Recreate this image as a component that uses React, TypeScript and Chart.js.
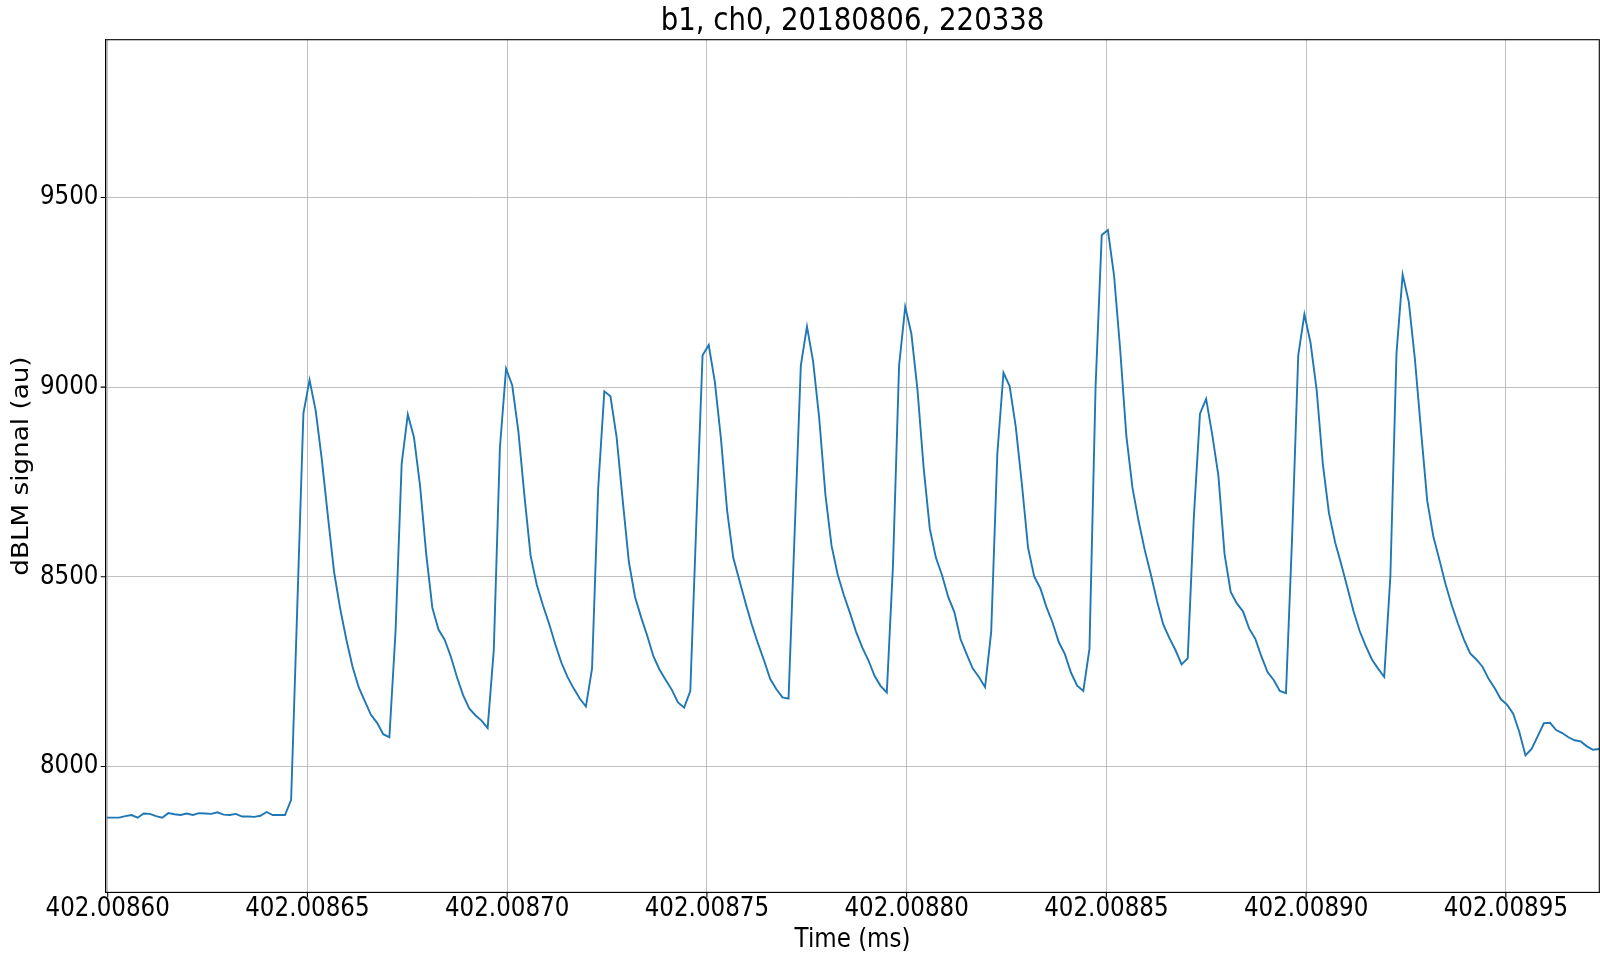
import React, { useEffect, useRef } from "react";
import { Chart, registerables } from "chart.js";

Chart.register(...registerables);

const TITLE = "b1, ch0, 20180806, 220338";
const X_LABEL = "Time (ms)";
const Y_LABEL = "dBLM signal (au)";

// sampling of the trace
const T_START = 402.0085998; // ms, first sample
const T_STEP = 1.5373e-6; // ms between samples

const X_MIN = 402.0085995;
const X_MAX = 402.0089734;
const Y_MIN = 7668;
const Y_MAX = 9916;

const X_TICKS = [402.0086, 402.00865, 402.0087, 402.00875, 402.0088, 402.00885, 402.0089, 402.00895];
const Y_TICKS = [8000, 8500, 9000, 9500];

// signal values (au), in sample order
const BASELINE = [7865, 7865, 7865, 7869, 7872, 7865, 7876, 7875, 7869, 7865, 7877, 7874, 7872, 7876, 7872, 7877, 7876, 7875, 7879, 7873, 7872, 7875, 7868, 7868, 7867, 7870, 7880, 7872, 7872, 7872];
const BUNCH_1 = [7912, 8420, 8931, 9019, 8938, 8809, 8658, 8512, 8415, 8334, 8263, 8209, 8172, 8136, 8115, 8085, 8077];
const BUNCH_2 = [8355, 8798, 8928, 8868, 8739, 8560, 8418, 8361, 8334, 8290, 8236, 8188, 8153, 8135, 8121, 8101];
const BUNCH_3 = [8307, 8841, 9049, 9005, 8884, 8712, 8555, 8479, 8425, 8377, 8323, 8274, 8236, 8206, 8179, 8158];
const BUNCH_4 = [8258, 8733, 8989, 8976, 8868, 8701, 8539, 8447, 8393, 8344, 8290, 8255, 8228, 8202, 8169, 8155];
const BUNCH_5 = [8199, 8650, 9084, 9111, 9014, 8863, 8674, 8550, 8490, 8431, 8375, 8325, 8280, 8231, 8204, 8182, 8179];
const BUNCH_6 = [8620, 9057, 9160, 9068, 8917, 8717, 8582, 8506, 8452, 8405, 8355, 8314, 8280, 8239, 8212, 8195];
const BUNCH_7 = [8528, 9057, 9212, 9141, 8992, 8787, 8627, 8550, 8504, 8447, 8407, 8336, 8296, 8258, 8236, 8209];
const BUNCH_8 = [8355, 8825, 9038, 9003, 8895, 8744, 8577, 8501, 8470, 8420, 8379, 8328, 8296, 8247, 8213, 8199];
const BUNCH_9 = [8310, 9003, 9401, 9414, 9295, 9100, 8873, 8735, 8647, 8571, 8506, 8436, 8375, 8339, 8307, 8269, 8285];
const BUNCH_10 = [8658, 8930, 8969, 8874, 8766, 8560, 8460, 8430, 8409, 8364, 8337, 8290, 8249, 8228, 8199, 8193];
const BUNCH_11 = [8604, 9084, 9192, 9117, 8992, 8798, 8668, 8591, 8533, 8472, 8409, 8357, 8317, 8282, 8258, 8236];
const BUNCH_12 = [8501, 9090, 9297, 9225, 9073, 8884, 8701, 8606, 8544, 8480, 8425, 8377, 8334, 8298, 8282, 8263, 8231, 8206, 8177, 8163, 8139];
const TAIL = [8091, 8029, 8046, 8080, 8114, 8115, 8096, 8088, 8077, 8069, 8066, 8053, 8044, 8046];

const SIGNAL = [
  ...BASELINE, ...BUNCH_1, ...BUNCH_2, ...BUNCH_3, ...BUNCH_4, ...BUNCH_5, ...BUNCH_6,
  ...BUNCH_7, ...BUNCH_8, ...BUNCH_9, ...BUNCH_10, ...BUNCH_11, ...BUNCH_12, ...TAIL,
];

const FONT = "'DejaVu Sans', sans-serif";
const W = 1600;
const H = 957;
const STRETCH = 1.14; // text in the reference is drawn taller than wide
const TICK_SIZE = 23;
const LABEL_SIZE = 23;
const TITLE_SIZE = 27.6;
const TICK_LEN = 5;

function drawText(ctx: CanvasRenderingContext2D, text: string, x: number, y: number, size: number, align: CanvasTextAlign, vertical = false) {
  ctx.save();
  ctx.translate(x, y);
  if (vertical) {
    ctx.rotate(-Math.PI / 2);
    ctx.scale(STRETCH, 1);
  } else {
    ctx.scale(1, STRETCH);
  }
  ctx.font = `${size}px ${FONT}`;
  ctx.textAlign = align;
  ctx.textBaseline = "middle";
  ctx.fillStyle = "#000000";
  ctx.fillText(text, 0, 0);
  ctx.restore();
}

const decorPlugin = {
  id: "decor",
  afterDraw(chart: any) {
    const { ctx, chartArea } = chart;
    const { left, right, top, bottom } = chartArea;
    const xs = chart.scales.x;
    const ys = chart.scales.y;
    ctx.save();
    ctx.strokeStyle = "#000000";
    ctx.lineWidth = 1.1;
    ctx.strokeRect(left, top, right - left, bottom - top);
    ctx.beginPath();
    for (const v of X_TICKS) {
      const px = xs.getPixelForValue(v);
      ctx.moveTo(px, bottom);
      ctx.lineTo(px, bottom + TICK_LEN);
    }
    for (const v of Y_TICKS) {
      const py = ys.getPixelForValue(v);
      ctx.moveTo(left, py);
      ctx.lineTo(left - TICK_LEN, py);
    }
    ctx.stroke();
    ctx.restore();
    for (const v of X_TICKS) {
      drawText(ctx, v.toFixed(5), xs.getPixelForValue(v), 909, TICK_SIZE, "center");
    }
    for (const v of Y_TICKS) {
      drawText(ctx, String(v), 98.5, ys.getPixelForValue(v), TICK_SIZE, "right");
    }
    drawText(ctx, TITLE, (left + right) / 2, 22, TITLE_SIZE, "center");
    drawText(ctx, X_LABEL, (left + right) / 2, 940, LABEL_SIZE, "center");
    drawText(ctx, Y_LABEL, 22.5, (top + bottom) / 2, LABEL_SIZE, "center", true);
  },
};

export default function App() {
  const ref = useRef<HTMLCanvasElement | null>(null);

  useEffect(() => {
    if (!ref.current) return;
    const points = SIGNAL.map((v, i) => ({ x: T_START + i * T_STEP, y: v }));
    const chart = new Chart(ref.current, {
      type: "line",
      data: {
        datasets: [
          {
            data: points,
            borderColor: "#1f77b4",
            borderWidth: 1.9,
            pointRadius: 0,
            fill: false,
            tension: 0,
          },
        ],
      },
      options: {
        responsive: false,
        animation: false,
        devicePixelRatio: 1,
        layout: { padding: { top: 39.7, right: 0.7, left: 0, bottom: 0 } },
        plugins: {
          legend: { display: false },
          title: { display: false },
          tooltip: { enabled: false },
        },
        scales: {
          x: {
            type: "linear",
            min: X_MIN,
            max: X_MAX,
            afterBuildTicks: (s: any) => {
              s.ticks = X_TICKS.map((v) => ({ value: v }));
            },
            afterFit: (s: any) => {
              s.height = H - 892.4;
            },
            ticks: { display: false, autoSkip: false },
            grid: { color: "#b0b0b0", lineWidth: 0.8, drawTicks: false },
            border: { display: true, color: "#000000", width: 1.1 },
          },
          y: {
            type: "linear",
            min: Y_MIN,
            max: Y_MAX,
            afterBuildTicks: (s: any) => {
              s.ticks = Y_TICKS.map((v) => ({ value: v }));
            },
            afterFit: (s: any) => {
              s.width = 105.7;
            },
            ticks: { display: false, autoSkip: false },
            grid: { color: "#b0b0b0", lineWidth: 0.8, drawTicks: false },
            border: { display: true, color: "#000000", width: 1.1 },
          },
        },
      },
      plugins: [decorPlugin],
    });
    return () => chart.destroy();
  }, []);

  return (
    <div style={{ position: "absolute", left: 0, top: 0, width: W, height: H, background: "#ffffff" }}>
      <canvas ref={ref} width={W} height={H} style={{ width: W, height: H, display: "block" }} />
    </div>
  );
}
